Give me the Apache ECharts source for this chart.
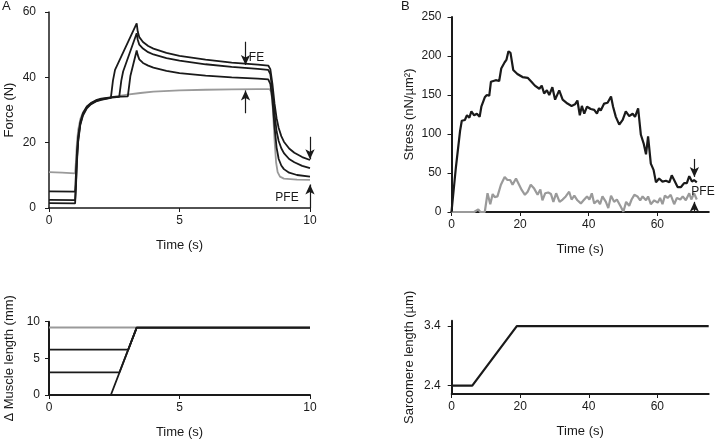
<!DOCTYPE html>
<html><head><meta charset="utf-8">
<script src="https://cdn.jsdelivr.net/npm/echarts@6/dist/echarts.min.js"></script>
<style>html,body{margin:0;padding:0;background:#fff}#c{width:718px;height:442px}</style>
</head><body><div id="c"></div>
<script>
// Panel A: force (N) vs time (s)
const forceIso = [[0,11.0],[0.5,10.8],[1.0,10.6],[1.03,14],[1.07,20],[1.12,24],[1.2,27.2],[1.3,29.2],[1.45,30.9],[1.6,31.9],[1.8,32.7],[2.0,33.2],[2.5,34.1],[3.0,34.7],[3.5,35.2],[4,35.6],[5,36.0],[6,36.2],[7,36.3],[8,36.4],[8.45,36.4],[8.52,35.5],[8.58,30],[8.64,21],[8.7,14],[8.76,11],[8.85,9.6],[9.0,9.0],[9.5,8.7],[10,8.6]];
const forceStretchLong = [[0,1.5],[1.0,1.4],[1.03,6],[1.07,14],[1.12,20.5],[1.2,25.5],[1.3,28.3],[1.45,30.5],[1.6,31.7],[1.8,32.6],[2.0,33.1],[2.37,33.7],[2.45,39],[2.53,42.3],[3.36,56.5],[3.4,54],[3.46,52.3],[3.6,50.8],[3.8,49.6],[4.0,48.8],[4.5,47.5],[5,46.6],[6,45.4],[7,44.5],[8,43.9],[8.4,43.6],[8.48,42.5],[8.56,38],[8.64,32],[8.72,27.5],[8.8,24.5],[8.9,22],[9.0,20.3],[9.2,18.2],[9.4,16.9],[9.7,15.6],[10,14.7]];
const forceStretchMid = [[0,2.5],[1.0,2.4],[1.03,7],[1.07,15],[1.12,21],[1.2,25.8],[1.3,28.6],[1.45,30.8],[1.6,31.9],[1.8,32.8],[2.0,33.3],[2.4,33.8],[2.69,34.0],[2.77,39],[2.84,41.8],[3.36,53.5],[3.4,51.5],[3.46,50],[3.6,48.8],[3.8,47.7],[4.0,47],[4.5,45.9],[5,45.1],[6,44],[7,43.2],[8,42.6],[8.4,42.3],[8.48,41],[8.56,36],[8.64,29],[8.72,23.5],[8.8,20.5],[8.9,18.3],[9.0,16.8],[9.2,15],[9.4,14],[9.7,12.9],[10,12.2]];
const forceStretchShort = [[0,5.1],[1.0,5.0],[1.03,10],[1.07,17],[1.12,22],[1.2,26.3],[1.3,29],[1.45,31.1],[1.6,32.1],[1.8,33],[2.0,33.5],[2.5,34],[3.02,34.2],[3.12,40.5],[3.36,48.2],[3.4,46.8],[3.46,45.5],[3.6,44.4],[3.8,43.6],[4.0,43],[4.5,42],[5,41.3],[6,40.5],[7,40],[8,39.6],[8.4,39.4],[8.48,38],[8.56,33],[8.64,25],[8.72,18.5],[8.8,15],[8.9,13],[9.0,11.9],[9.2,10.8],[9.5,10.1],[10,9.6]];

// Panel B: stress (nN/um2) vs time (s)
const stressActive = [[0,0],[1.3,58],[2.5,104],[3.0,117],[3.9,118],[4.5,124],[5.2,121],[5.8,129],[6.6,124],[7.4,126],[8.2,122],[8.7,135],[9.7,147],[10.3,150],[11,149],[11.5,167],[12.9,169],[13.9,168],[14.5,184],[15.5,192],[16,195],[16.6,206],[17.2,204],[18,182],[19.2,177],[20.7,173],[22.2,172],[23.3,167],[24.3,162],[25.6,158],[26.3,162],[27,152],[27.8,156],[28.5,150],[29.4,160],[30.2,144],[31.4,156],[32.4,144],[33.8,139],[35,136],[36,138],[36.7,143],[37.4,124],[38,136],[38.7,126],[39.5,135],[40.6,132],[41.6,131],[42.4,126],[43,133],[43.5,130],[44.5,139],[45.5,140],[46.5,148],[47.1,135],[47.9,122],[48.9,112],[49.9,118],[50.8,129],[51.8,123],[52.8,126],[53.5,122],[54.4,133],[55.2,99],[56,88],[56.7,74],[57.3,97],[58.1,62],[58.9,54],[59.6,38],[60.5,43],[61.5,39],[62.5,40],[63.5,38],[64.2,47],[64.9,41],[65.9,32],[66.9,32],[67.8,37],[68.6,37],[69.3,46],[70.1,39],[70.7,41],[71.5,38]];
const stressPassive = [[0,0],[6.6,0],[7.8,3.4],[8.4,0],[9.7,0],[10.5,24],[11.3,10],[12,23],[12.6,19],[13.4,20],[14.4,35],[15.5,45],[16.3,41],[17.1,41],[17.8,35],[18.8,43],[19.7,35],[20.5,28],[21.4,22],[22.2,26],[23.1,35],[24.1,30],[25.1,22],[25.9,29],[26.5,15],[27.3,24],[28.2,25],[29,23],[29.7,13],[30.5,24],[31.5,13],[32.4,16],[33.3,20],[34.3,26],[35,16],[35.8,21],[36.7,15],[37.7,11],[38.5,15],[39.5,20],[40.2,16],[40.9,24],[41.6,11],[42.6,15],[43.3,10],[44,20],[45,13],[45.7,5],[46.5,21],[47.4,13],[48.2,16],[49.2,8],[50.1,0.4],[50.9,13],[51.8,8],[52.5,16],[53.3,22],[54.2,20],[55,15],[55.7,20],[56.7,15],[57.3,20],[58.1,10],[59.1,15],[60.1,12],[60.8,18],[61.5,10],[62.2,21],[63,18],[63.9,22],[64.9,10],[65.7,18],[66.7,16],[67.4,20],[68.3,15],[69.3,24],[69.9,16],[70.7,24],[71.5,16]];

// Panel C: delta muscle length (mm) vs time (s)
const lengthIso = [[0,9.2],[3.36,9.2]];
const lengthStretchLong = [[0,0],[2.37,0],[3.36,9.2],[10,9.2]];
const lengthStretchMid = [[0,3.1],[2.70,3.1],[3.36,9.2],[10,9.2]];
const lengthStretchShort = [[0,6.2],[3.04,6.2],[3.36,9.2],[10,9.2]];

// Panel D: sarcomere length (um) vs time (s)
const sarcomereLength = [[0,2.4],[6,2.4],[19,3.4],[75,3.4]];

// tick labels
const ticksA = [0,5,10];
const ticksB = [0,20,40,60];
const ticksD_y = [2.4,3.4];

const FONT = 'Liberation Sans, Arial, sans-serif';
const INK = '#1a1a1a';
const GRAY = '#9a9a9a';

function xAx(grid, min, max, interval, custom, lw) {
  const a = {
    type:'value', gridIndex:grid, min:min, max:max, interval:interval,
    name:'Time (s)', nameLocation:'middle', nameGap:31,
    nameTextStyle:{fontFamily:FONT, fontSize:13, color:INK},
    axisLine:{show:true, onZero:false, lineStyle:{color:INK, width:lw}},
    axisTick:{show:true, inside:false, length:4, lineStyle:{color:INK, width:1}},
    axisLabel:{fontFamily:FONT, fontSize:12, color:INK, margin:7},
    splitLine:{show:false}
  };
  if (custom) { a.axisLabel.customValues = custom; a.axisTick.customValues = custom; }
  return a;
}
function yAx(grid, min, max, interval, name, gap, margin, custom, lw) {
  const a = {
    type:'value', gridIndex:grid, min:min, max:max, interval:interval,
    name:name, nameLocation:'middle', nameGap:gap,
    nameTextStyle:{fontFamily:FONT, fontSize:13, color:INK},
    axisLine:{show:true, onZero:false, lineStyle:{color:INK, width:lw}},
    axisTick:{show:true, inside:false, length:4, lineStyle:{color:INK, width:1}},
    axisLabel:{fontFamily:FONT, fontSize:12, color:INK, margin:margin},
    splitLine:{show:false}
  };
  if (custom) { a.axisLabel.customValues = custom; a.axisTick.customValues = custom; }
  return a;
}
function ln(data, xi, color, width, z, extra) {
  return Object.assign({
    type:'line', data:data, xAxisIndex:xi, yAxisIndex:xi, showSymbol:false, symbol:'none',
    lineStyle:{color:color, width:width}, itemStyle:{color:color}, z:z, clip:false, silent:true
  }, extra || {});
}
const arrowStyle = {silent:true, symbol:['none','arrow'], symbolSize:[7,10],
  lineStyle:{color:INK, width:1.2, type:'solid'}, label:{show:false}, emphasis:{disabled:true}};
function textMarks(items) {
  return {silent:true, symbol:'rect', symbolSize:1, itemStyle:{color:'rgba(0,0,0,0)'},
    label:{show:true, position:'inside', formatter:'{b}', fontFamily:FONT, fontSize:12, color:INK},
    data: items.map(d => ({name:d[0], coord:[d[1], d[2]]}))};
}

const chart = echarts.init(document.getElementById('c'), null, {renderer:'canvas'});
chart.setOption({
  animation:false,
  backgroundColor:'#fff',
  grid:[
    {left:49, top:12, width:261, height:196},
    {left:451.5, top:17, width:257.3, height:195},
    {left:49, top:321.7, width:261, height:73.3},
    {left:451.7, top:320.7, width:257, height:73.3}
  ],
  xAxis:[
    xAx(0, 0, 10, 5, ticksA, 1.5),
    xAx(1, 0, 75, 20, ticksB, 2),
    xAx(2, 0, 10, 5, ticksA, 2),
    xAx(3, 0, 75, 20, ticksB, 2)
  ],
  yAxis:[
    yAx(0, 0, 60, 20, 'Force (N)', 33, 13, null, 1.5),
    yAx(1, 0, 250, 50, 'Stress (nN/µm²)', 36, 10, null, 2),
    yAx(2, 0, 10, 5, 'Δ Muscle length (mm)', 33, 9, null, 2),
    yAx(3, 2.26, 3.49, null, 'Sarcomere length (µm)', 36, 11, ticksD_y, 2)
  ],
  graphic:[
    {type:'text', left:2, top:0, style:{text:'A', font:'13px '+FONT, fill:INK}},
    {type:'text', left:401, top:0, style:{text:'B', font:'13px '+FONT, fill:INK}}
  ],
  series:[
    ln(forceIso, 0, GRAY, 1.8, 2),
    ln(forceStretchShort, 0, INK, 1.8, 3),
    ln(forceStretchMid, 0, INK, 1.8, 3),
    ln(forceStretchLong, 0, INK, 1.8, 3, {
      markLine:Object.assign({}, arrowStyle, {data:[
        [{coord:[7.53,50.9]},{coord:[7.53,43.8]}],
        [{coord:[7.53,29]},{coord:[7.53,36.0]}],
        [{coord:[10,21.8]},{coord:[10,14.9]}],
        [{coord:[10,0]},{coord:[10,7.2]}]
      ]}),
      markPoint:textMarks([['FE',7.95,46.1],['PFE',9.12,3.3]])
    }),
    ln(stressPassive, 1, GRAY, 2.2, 2),
    ln(stressActive, 1, INK, 2.2, 3, {
      markLine:Object.assign({}, arrowStyle, {data:[
        [{coord:[70.8,68]},{coord:[70.8,45]}],
        [{coord:[70.8,0]},{coord:[70.8,13]}]
      ]}),
      markPoint:textMarks([['PFE',73.3,26.3]])
    }),
    ln(lengthIso, 2, GRAY, 2, 2),
    ln(lengthStretchShort, 2, INK, 1.8, 3),
    ln(lengthStretchMid, 2, INK, 1.8, 3),
    ln(lengthStretchLong, 2, INK, 1.8, 3),
    ln(sarcomereLength, 3, INK, 2.2, 3)
  ]
});
</script></body></html>
